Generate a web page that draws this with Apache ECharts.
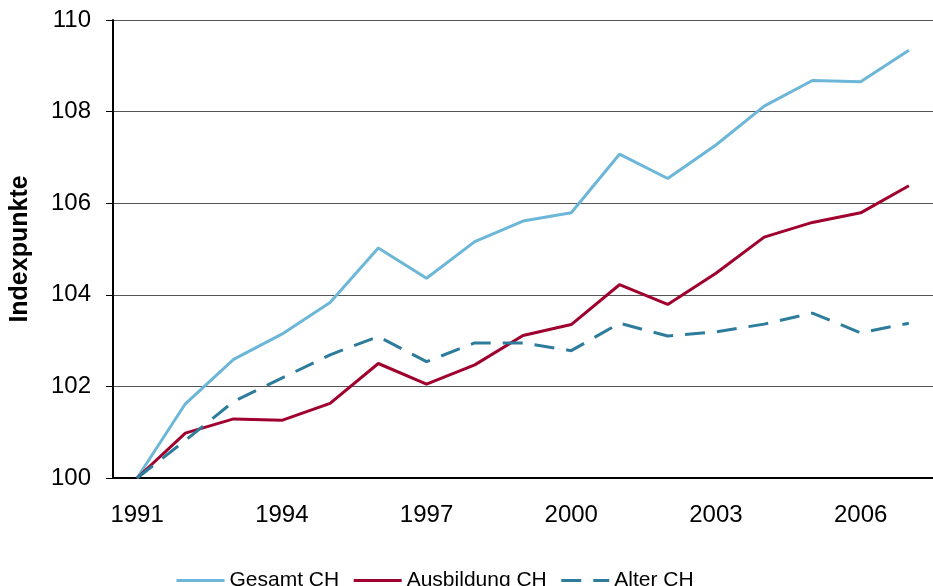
<!DOCTYPE html>
<html>
<head>
<meta charset="utf-8">
<script src="https://cdn.jsdelivr.net/npm/echarts@6/dist/echarts.min.js"></script>
<style>
  html, body { margin: 0; padding: 0; background: #fff; }
  #chart { width: 933px; height: 586px; }
</style>
</head>
<body>
<div id="chart"></div>
<script>
const years = ['1991','1992','1993','1994','1995','1996','1997','1998','1999',
               '2000','2001','2002','2003','2004','2005','2006','2007'];

const gesamtCH = [100, 101.62, 102.59, 103.14, 103.83, 105.02, 104.36, 105.16, 105.61,
                  105.79, 107.07, 106.54, 107.27, 108.12, 108.68, 108.65, 109.34];
const ausbildungCH = [100, 100.98, 101.29, 101.26, 101.63, 102.50, 102.05, 102.47, 103.11,
                      103.35, 104.22, 103.79, 104.47, 105.26, 105.58, 105.79, 106.38];
const alterCH = [100, 100.82, 101.67, 102.18, 102.69, 103.09, 102.54, 102.95, 102.95,
                 102.78, 103.38, 103.10, 103.19, 103.36, 103.60, 103.17, 103.38];

const fontFamily = '"Liberation Sans", Arial, sans-serif';

const chart = echarts.init(document.getElementById('chart'));

const line = (name, data, color, type) => ({
  name,
  type: 'line',
  data,
  symbol: 'none',
  smooth: false,
  lineStyle: { color, width: 3, type: type || 'solid' },
  itemStyle: { color }
});

chart.setOption({
  animation: false,
  textStyle: { fontFamily },
  grid: { left: 113, right: -11, top: 20, bottom: 108, containLabel: false },
  legend: {
    left: 170,
    top: 565,
    itemWidth: 48,
    itemHeight: 14,
    itemGap: 13,
    itemStyle: { opacity: 0 },
    lineStyle: { width: 3 },
    textStyle: { fontSize: 21, color: '#000', fontFamily },
    data: ['Gesamt CH', 'Ausbildung CH', 'Alter CH']
  },
  xAxis: {
    type: 'category',
    data: years,
    boundaryGap: true,
    axisLine: { lineStyle: { color: '#000', width: 2 } },
    axisTick: { interval: 0, length: 7, lineStyle: { color: '#000', width: 1 } },
    axisLabel: { interval: 2, fontSize: 24, color: '#000', margin: 25, fontFamily },
    splitLine: { show: false }
  },
  yAxis: {
    type: 'value',
    min: 100,
    max: 110,
    interval: 2,
    name: 'Indexpunkte',
    nameLocation: 'middle',
    nameGap: 80,
    nameTextStyle: { fontSize: 25, fontWeight: 'bold', color: '#000', fontFamily },
    axisLine: { show: true, lineStyle: { color: '#000', width: 2 } },
    axisTick: { show: true, length: 7, lineStyle: { color: '#000', width: 1 } },
    axisLabel: { fontSize: 24, color: '#000', margin: 22, fontFamily },
    splitLine: { show: true, lineStyle: { color: '#555', width: 1 } }
  },
  series: [
    line('Gesamt CH', gesamtCH, '#6CB7D7'),
    line('Ausbildung CH', ausbildungCH, '#A0002E'),
    line('Alter CH', alterCH, '#2E7C9C', [20, 12])
  ]
});

window.addEventListener('resize', () => chart.resize());
</script>
</body>
</html>
